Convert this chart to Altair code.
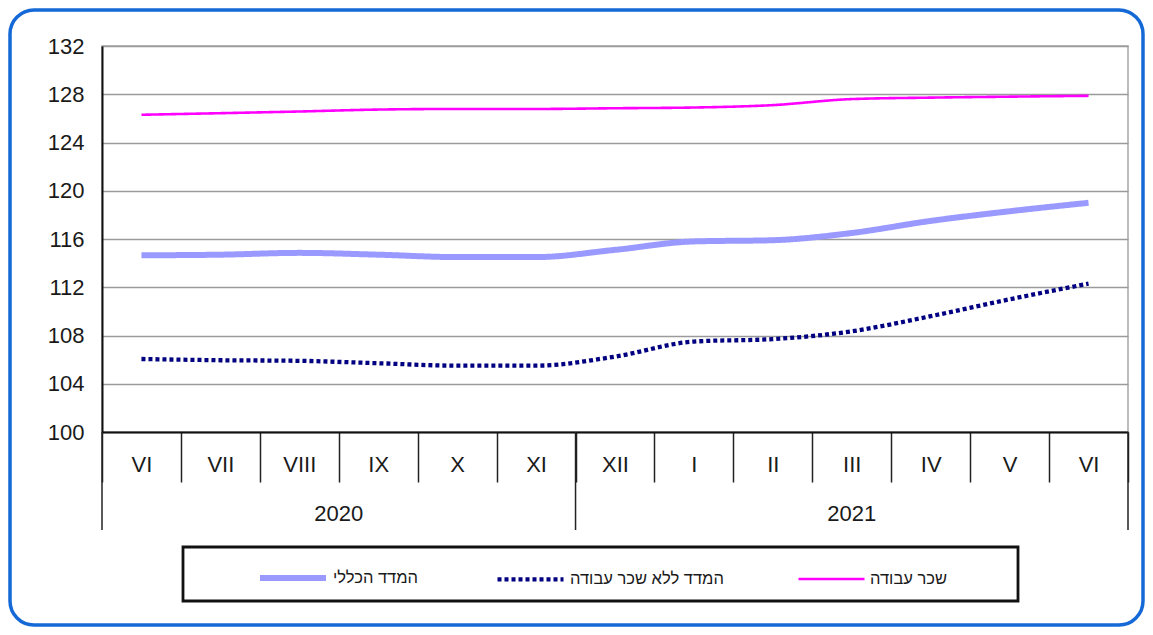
import altair as alt
import pandas as pd

# ---- data ----
months = ["VI", "VII", "VIII", "IX", "X", "XI", "XII", "I", "II", "III", "IV", "V", "VI"]
month_years = ["2020"] * 6 + ["2021"] * 7
years = ["2020", "2021"]
year_counts = [6, 7]

series_names = ["המדד הכללי", "המדד ללא שכר עבודה", "שכר עבודה"]
general = [114.65, 114.7, 114.85, 114.7, 114.5, 114.5, 115.1, 115.8, 115.9, 116.5, 117.5, 118.3, 119.0]
no_wage = [106.05, 105.95, 105.9, 105.7, 105.5, 105.5, 106.25, 107.5, 107.7, 108.35, 109.6, 111.0, 112.3]
wage = [126.3, 126.43, 126.57, 126.73, 126.78, 126.78, 126.84, 126.9, 127.1, 127.6, 127.72, 127.8, 127.87]

colors = ["#9999FF", "#000080", "#FF00FF"]
widths = [6, 2.6, 2.5]
dashes = [[1, 0], [4, 3], [1, 0]]

keys = [f"{m} {y}" for m, y in zip(months, month_years)]
rows = []
for name, vals in zip(series_names, [general, no_wage, wage]):
    for k, v in zip(keys, vals):
        rows.append({"key": k, "series": name, "value": v})
df = pd.DataFrame(rows)

# year boundaries / centres from month counts
bounds = [0]
for c in year_counts:
    bounds.append(bounds[-1] + c)
year_rules = pd.DataFrame({"pos": bounds})
year_text = pd.DataFrame({"pos": [(bounds[i] + bounds[i + 1]) / 2 for i in range(len(years))], "year": years})

FONT = "Liberation Sans"
W, H = 1026, 386

x_enc = alt.X(
    "key:O",
    sort=None,
    scale=alt.Scale(type="band", domain=keys, paddingInner=0, paddingOuter=0),
    bandPosition=0.5,
    axis=alt.Axis(
        title=None,
        labelExpr="split(datum.label, ' ')[0]",
        tickBand="extent",
        ticks=True,
        tickSize=50,
        tickColor="#222222",
        tickWidth=1.5,
        labelPadding=-18,
        labelBaseline="middle",
        labelAngle=0,
        labelFontSize=22,
        labelFont=FONT,
        labelColor="#1a1a1a",
        domainColor="#111111",
        domainWidth=2,
        grid=False,
    ),
)

y_enc = alt.Y(
    "value:Q",
    scale=alt.Scale(domain=[100, 132], nice=False, zero=False),
    axis=alt.Axis(
        title=None,
        values=list(range(100, 133, 4)),
        ticks=False,
        labelPadding=18,
        labelFontSize=22,
        labelFont=FONT,
        labelColor="#1a1a1a",
        domainColor="#111111",
        domainWidth=2,
        grid=True,
        gridColor="#9a9a9a",
        gridWidth=1.6,
    ),
)

legend = alt.Legend(
    orient="none",
    legendX=155,
    legendY=496,
    direction="horizontal",
    title=None,
    symbolType="stroke",
    symbolSize=4356,
    labelFontSize=16.5,
    labelFont=FONT,
    labelColor="#1a1a1a",
    columnPadding=69,
    labelOffset=4,
    padding=0,
    labelLimit=400,
)

lines = alt.Chart(df).mark_line(interpolate="monotone").encode(
    x=x_enc,
    y=y_enc,
    color=alt.Color("series:N", scale=alt.Scale(domain=series_names, range=colors), legend=legend),
    strokeDash=alt.StrokeDash("series:N", scale=alt.Scale(domain=series_names, range=dashes), legend=legend),
    strokeWidth=alt.StrokeWidth("series:N", scale=alt.Scale(domain=series_names, range=widths), legend=legend),
)

rules = alt.Chart(year_rules).mark_rule(color="#222222", strokeWidth=1.5).encode(
    x=alt.X("pos:Q", scale=alt.Scale(domain=[0, bounds[-1]], nice=False, zero=False), axis=None),
    y=alt.value(H),
    y2=alt.value(H + 98),
)

ytext = alt.Chart(year_text).mark_text(fontSize=22, font=FONT, color="#1a1a1a", baseline="middle").encode(
    x=alt.X("pos:Q", scale=alt.Scale(domain=[0, bounds[-1]], nice=False, zero=False), axis=None),
    y=alt.value(H + 82),
    text="year:N",
)

one = alt.Data(values=[{"a": 1}])
border = alt.Chart(one).mark_rect(fill="transparent", stroke="#1469D6", strokeWidth=3.5, cornerRadius=24).encode(
    x=alt.value(-92), x2=alt.value(W + 15), y=alt.value(-36), y2=alt.value(H + 193)
)
legend_box = alt.Chart(one).mark_rect(fill="transparent", stroke="#111111", strokeWidth=2.8).encode(
    x=alt.value(81), x2=alt.value(916), y=alt.value(501), y2=alt.value(555)
)

chart = (
    alt.layer(border, legend_box, lines, rules, ytext)
    .resolve_scale(x="independent")
    .properties(
        width=W,
        height=H,
        padding={"left": 94, "top": 38, "right": 17, "bottom": 195},
        autosize=alt.AutoSizeParams(type="none"),
        background="white",
    )
    .configure_view(stroke="#a6a6a6", strokeWidth=1.5)
)

chart.save("out.html", embed_options={"renderer": "svg", "actions": False})
